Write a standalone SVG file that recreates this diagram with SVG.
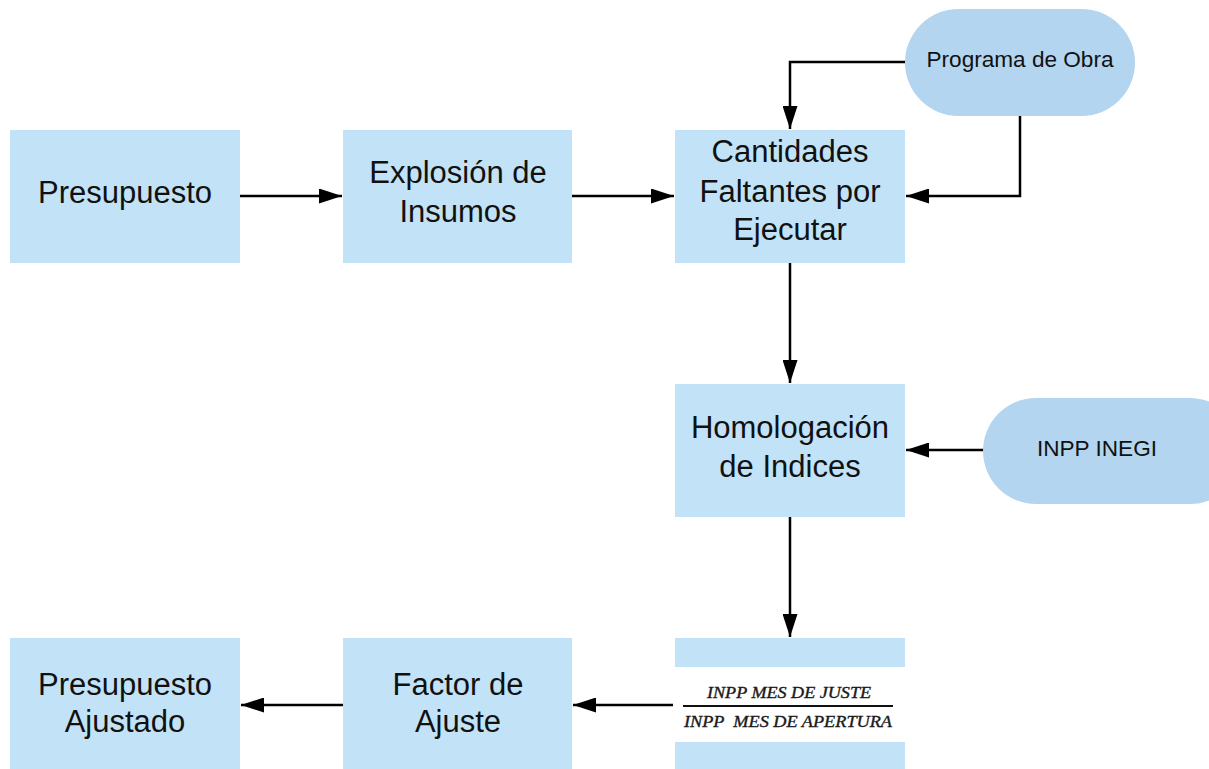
<svg xmlns="http://www.w3.org/2000/svg" width="1209" height="769" viewBox="0 0 1209 769">
<style>
.box{fill:#c2e3f7}
.pill{fill:#b3d5ef}
.t{font-family:"Liberation Sans",Arial,sans-serif;font-size:31px;fill:#111;text-anchor:middle}
.s{font-family:"Liberation Sans",Arial,sans-serif;font-size:22px;fill:#111;text-anchor:middle}
.f{font-family:"Liberation Serif","Times New Roman",serif;font-style:italic;font-size:16px;fill:#1a1a1a;stroke:#1a1a1a;stroke-width:0.35;text-anchor:middle;white-space:pre}
.c{fill:none;stroke:#000;stroke-width:2.5}
</style>
<defs>
<marker id="a" viewBox="0 0 23 15" refX="23" refY="7.5" markerWidth="23" markerHeight="15" markerUnits="userSpaceOnUse" orient="auto">
<path d="M0,0 L23,7.5 L0,15 z" fill="#000"/>
</marker>
</defs>
<rect width="1209" height="769" fill="#fff"/>
<g id="connectors">
<path class="c" d="M240,196 H342" marker-end="url(#a)"/>
<path class="c" d="M572,196 H674" marker-end="url(#a)"/>
<path class="c" d="M906,62 H790 V129" marker-end="url(#a)"/>
<path class="c" d="M1020,116 V196 H906" marker-end="url(#a)"/>
<path class="c" d="M790,263 V383" marker-end="url(#a)"/>
<path class="c" d="M984,450 H906" marker-end="url(#a)"/>
<path class="c" d="M790,517 V637" marker-end="url(#a)"/>
<path class="c" d="M673,705 H573" marker-end="url(#a)"/>
<path class="c" d="M343,705 H241" marker-end="url(#a)"/>
</g>
<g id="presupuesto">
<rect class="box" x="10" y="130" width="230" height="133"/>
<text class="t" x="125" y="203">Presupuesto</text>
</g>
<g id="explosion">
<rect class="box" x="343" y="130" width="229" height="133"/>
<text class="t" x="458" y="183">Explosión de</text>
<text class="t" x="458" y="222">Insumos</text>
</g>
<g id="cantidades">
<rect class="box" x="675" y="130" width="230" height="133"/>
<text class="t" x="790" y="162">Cantidades</text>
<text class="t" x="790" y="202">Faltantes por</text>
<text class="t" x="790" y="240">Ejecutar</text>
</g>
<g id="programa">
<rect class="pill" x="905" y="9" width="230" height="107" rx="53.5"/>
<text class="s" x="1020" y="67" textLength="187" lengthAdjust="spacingAndGlyphs">Programa de Obra</text>
</g>
<g id="homologacion">
<rect class="box" x="675" y="384" width="230" height="133"/>
<text class="t" x="790" y="438">Homologación</text>
<text class="t" x="790" y="477">de Indices</text>
</g>
<g id="inpp-inegi">
<rect class="pill" x="983" y="398" width="260" height="106" rx="53"/>
<text class="s" x="1097" y="456" textLength="120" lengthAdjust="spacingAndGlyphs">INPP INEGI</text>
</g>
<g id="fraccion">
<rect class="box" x="675" y="638" width="230" height="29"/>
<rect class="box" x="675" y="742" width="230" height="27"/>
<text class="f" x="789" y="698" textLength="164" lengthAdjust="spacingAndGlyphs">INPP MES DE JUSTE</text>
<line x1="683" y1="706" x2="893" y2="706" stroke="#111" stroke-width="2"/>
<text class="f" x="788" y="727" textLength="208" lengthAdjust="spacingAndGlyphs">INPP  MES DE APERTURA</text>
</g>
<g id="factor">
<rect class="box" x="343" y="638" width="229" height="131"/>
<text class="t" x="458" y="695">Factor de</text>
<text class="t" x="458" y="732">Ajuste</text>
</g>
<g id="presupuesto-ajustado">
<rect class="box" x="10" y="638" width="230" height="131"/>
<text class="t" x="125" y="695">Presupuesto</text>
<text class="t" x="125" y="732">Ajustado</text>
</g>
</svg>
